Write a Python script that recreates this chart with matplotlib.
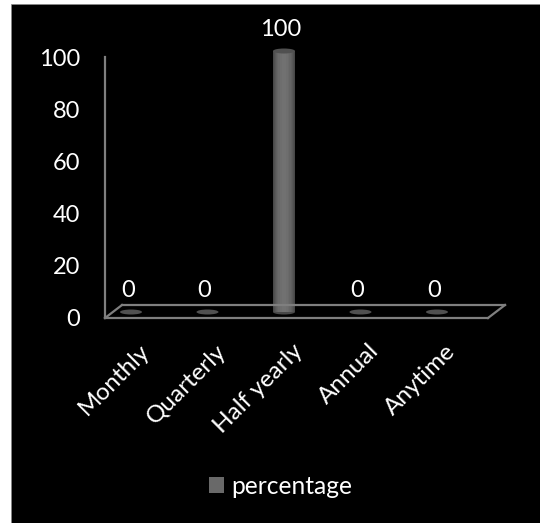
import matplotlib
matplotlib.use('Agg')
import matplotlib.pyplot as plt
from matplotlib.patches import Ellipse, Rectangle
from matplotlib.transforms import ScaledTranslation

categories = ['Monthly', 'Quarterly', 'Half yearly', 'Annual', 'Anytime']
percentage = [0, 0, 100, 0, 0]
y_ticks = [0, 20, 40, 60, 80, 100]

W, H = 540, 523
GREY = '#7f7f7f'
FS = 17
plt.rcParams['font.family'] = ['Lato', 'DejaVu Sans']


def px(dx, dy):
    return ScaledTranslation(dx / 100, dy / 100, fig.dpi_scale_trans)


fig = plt.figure(figsize=(W / 100, H / 100), dpi=100, facecolor='white')

# black panel, runs off the right and bottom edge
fig.add_artist(Rectangle((11 / W, 0), 1, 1 - 4 / H, transform=fig.transFigure,
                         facecolor='black', edgecolor='#888888', linewidth=0.5, zorder=-1))

ax = fig.add_axes([105 / W, 1 - 318 / H, 383 / W, 261 / H])
ax.patch.set_alpha(0)
ax.set_xlim(-0.34, 4.667)
ax.set_ylim(0, 100)

for s in ['top', 'right']:
    ax.spines[s].set_visible(False)
for s in ['left', 'bottom']:
    ax.spines[s].set_color(GREY)
    ax.spines[s].set_linewidth(1.6)

# everything standing on the floor sits a few pixels back
lift = ax.transData + px(0, 6)

# floor depth lines
ax.plot([0, 1], [0, 0], transform=ax.transAxes + px(17, 13), color=GREY, lw=1.6, clip_on=False)
ax.plot([0, 17 / 383], [0, 13 / 261], transform=ax.transAxes, color=GREY, lw=1.6, clip_on=False)
ax.plot([1, 1 + 17 / 383], [0, 13 / 261], transform=ax.transAxes, color=GREY, lw=1.6, clip_on=False)

bar_w = 22 / 76.5
ell_h = 5 / 2.61
shades = [('#484848', 1.0), ('#505050', 0.92), ('#585858', 0.84), ('#5f5f5f', 0.74),
          ('#656565', 0.62), ('#6a6a6a', 0.5), ('#6e6e6e', 0.36), ('#717171', 0.2)]
for i, v in enumerate(percentage):
    if v > 0:
        ax.add_patch(Ellipse((i, 0), bar_w, ell_h, facecolor='#484848', edgecolor='none',
                             transform=lift, clip_on=False))
        for col, k in shades:
            ax.bar(i, v, width=bar_w * k, color=col, transform=lift, clip_on=False)
    ax.add_patch(Ellipse((i, v), bar_w, ell_h, facecolor='#505050', edgecolor='none',
                         transform=lift, clip_on=False, zorder=3))
    ax.annotate(str(v), (i, v), xytext=(-3, 17), textcoords='offset pixels', ha='center',
                va='bottom', color='white', fontsize=FS, annotation_clip=False)

ax.set_xticks(range(len(categories)))
ax.set_xticklabels(categories, rotation=45, ha='right', rotation_mode='anchor',
                   color='white', fontsize=FS + 0.5)
ax.set_yticks(y_ticks)
ax.set_yticklabels([str(t) for t in y_ticks], color='white', fontsize=FS)
ax.tick_params(axis='y', length=0, pad=18)
ax.tick_params(axis='x', length=0, pad=16)
# tick_params resets the label transforms, so nudge them afterwards
for label in ax.get_xticklabels():
    label.set_transform(label.get_transform() + px(8, 0))

handle = Rectangle((0, 0), 1, 1, facecolor='#696969')
fig.legend([handle], ['percentage'], loc='center', bbox_to_anchor=(281 / W, 1 - 486 / H),
           frameon=False, labelcolor='white', fontsize=FS + 0.7, handlelength=0.6,
           handleheight=0.6, handletextpad=0.3)

fig.savefig('out.png', dpi=100, facecolor='white')
